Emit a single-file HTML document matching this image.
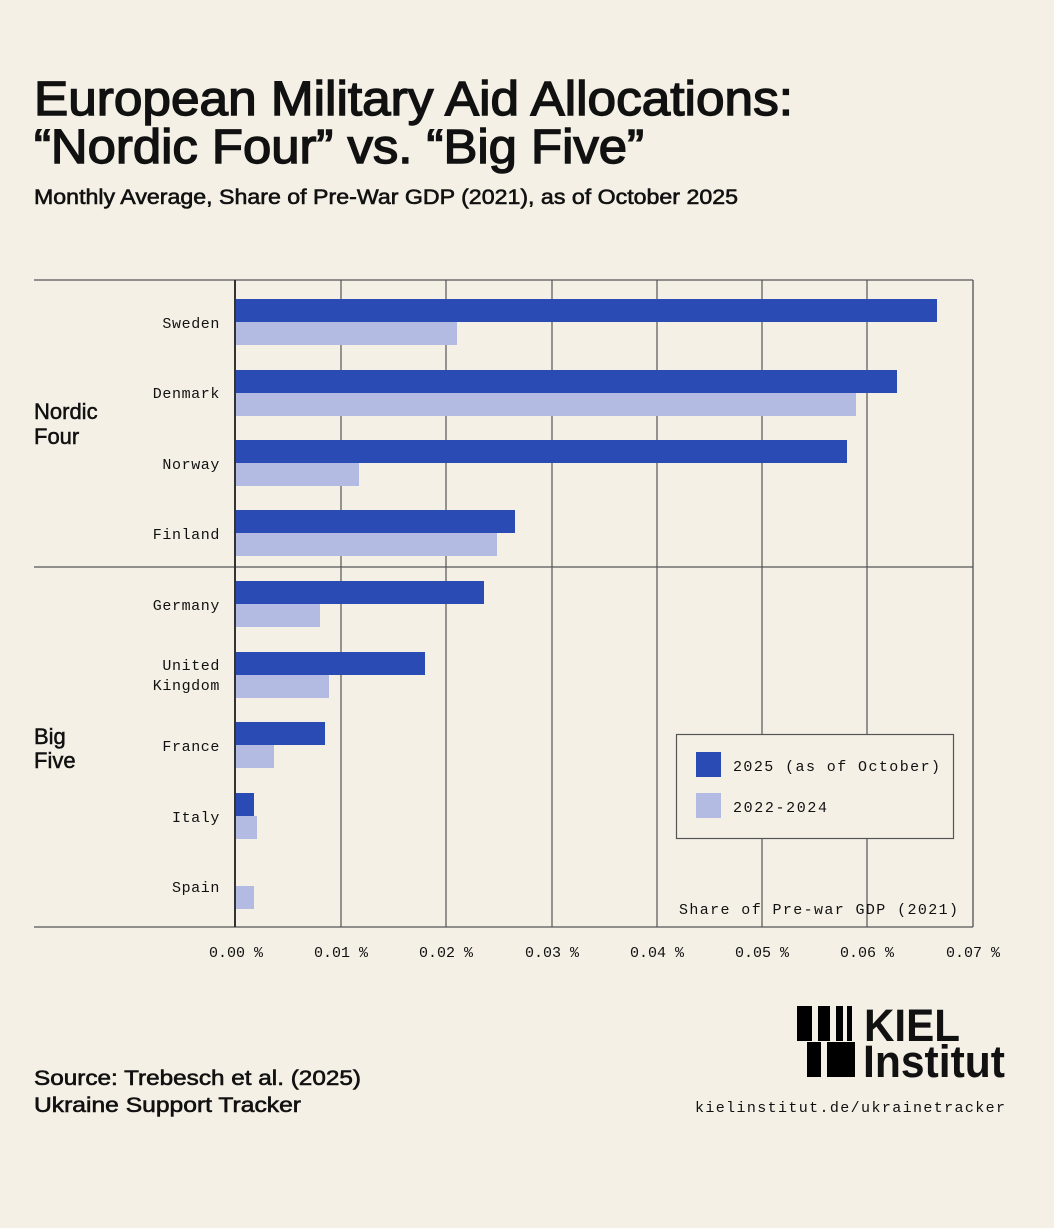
<!DOCTYPE html>
<html><head><meta charset="utf-8"><style>
html,body{margin:0;padding:0;background:#f4f0e6;}
svg{display:block}
.m{font-family:"Liberation Mono",monospace;font-size:15px;fill:#111;}
.s{font-family:"Liberation Sans",sans-serif;fill:#111;}
</style></head><body>
<svg width="1054" height="1228" viewBox="0 0 1054 1228">
<rect width="1054" height="1228" fill="#f4f0e6"/>
<g stroke="#111">
<text class="s" x="34" y="115" font-size="48" stroke-width="1.4" textLength="759" lengthAdjust="spacingAndGlyphs">European Military Aid Allocations:</text>
<text class="s" x="34" y="163" font-size="48" stroke-width="1.4" textLength="610" lengthAdjust="spacingAndGlyphs">“Nordic Four” vs. “Big Five”</text>
<text class="s" x="34" y="204" font-size="21" stroke-width="0.6" textLength="704" lengthAdjust="spacingAndGlyphs">Monthly Average, Share of Pre-War GDP (2021), as of October 2025</text>
</g>
<g stroke="#555" stroke-width="1.2">
<line x1="341" y1="280" x2="341" y2="927"/><line x1="446" y1="280" x2="446" y2="927"/>
<line x1="552" y1="280" x2="552" y2="927"/><line x1="657" y1="280" x2="657" y2="927"/>
<line x1="762" y1="280" x2="762" y2="927"/><line x1="867" y1="280" x2="867" y2="927"/>
<line x1="973" y1="280" x2="973" y2="927" stroke="#888" stroke-width="2"/>
<line x1="34" y1="280" x2="973" y2="280"/><line x1="34" y1="567" x2="973" y2="567"/>
<line x1="34" y1="927" x2="973" y2="927"/>
</g>
<g fill="#2a4bb4">
<rect x="236" y="299" width="701" height="23"/><rect x="236" y="370" width="661" height="23"/>
<rect x="236" y="440" width="611" height="23"/><rect x="236" y="510" width="279" height="23"/>
<rect x="236" y="581" width="248" height="23"/><rect x="236" y="652" width="189" height="23"/>
<rect x="236" y="722" width="89" height="23"/><rect x="236" y="793" width="18" height="23"/>
</g>
<g fill="#b3bbe3">
<rect x="236" y="322" width="221" height="23"/><rect x="236" y="393" width="620" height="23"/>
<rect x="236" y="463" width="123" height="23"/><rect x="236" y="533" width="261" height="23"/>
<rect x="236" y="604" width="84" height="23"/><rect x="236" y="675" width="93" height="23"/>
<rect x="236" y="745" width="38" height="23"/><rect x="236" y="816" width="21" height="23"/>
<rect x="236" y="886" width="18" height="23"/>
</g>
<line x1="235" y1="280" x2="235" y2="927" stroke="#333" stroke-width="2"/>
<g class="m" text-anchor="end" letter-spacing="0.6">
<text x="220" y="328">Sweden</text><text x="220" y="398">Denmark</text>
<text x="220" y="469">Norway</text><text x="220" y="539">Finland</text>
<text x="220" y="610">Germany</text><text x="220" y="670">United</text><text x="220" y="690">Kingdom</text>
<text x="220" y="751">France</text><text x="220" y="822">Italy</text><text x="220" y="892">Spain</text>
</g>
<g class="s" font-size="22" stroke="#111" stroke-width="0.5">
<text x="34" y="419">Nordic</text><text x="34" y="444">Four</text>
<text x="34" y="744">Big</text><text x="34" y="768">Five</text>
</g>
<rect x="676.5" y="734.5" width="277" height="104" fill="#f4f0e6" stroke="#555" stroke-width="1.2"/>
<rect x="696" y="752" width="25" height="25" fill="#2a4bb4"/>
<rect x="696" y="793" width="25" height="25" fill="#b3bbe3"/>
<text class="m" x="733" y="771" textLength="207">2025 (as of October)</text>
<text class="m" x="733" y="812" textLength="94">2022-2024</text>
<text class="m" x="679" y="914" textLength="279">Share of Pre-war GDP (2021)</text>
<g class="m" text-anchor="middle">
<text x="236" y="957">0.00 %</text><text x="341" y="957">0.01 %</text><text x="446" y="957">0.02 %</text>
<text x="552" y="957">0.03 %</text><text x="657" y="957">0.04 %</text><text x="762" y="957">0.05 %</text>
<text x="867" y="957">0.06 %</text><text x="973" y="957">0.07 %</text>
</g>
<g fill="#000">
<rect x="797" y="1006" width="15" height="35"/><rect x="818" y="1006" width="12" height="35"/>
<rect x="836" y="1006" width="7" height="35"/><rect x="847" y="1006" width="5" height="35"/>
<rect x="807" y="1042" width="14" height="35"/><rect x="827" y="1042" width="28" height="35"/>
</g>
<text class="s" x="864" y="1041" font-size="45" font-weight="bold" textLength="96" lengthAdjust="spacingAndGlyphs">KIEL</text>
<text class="s" x="863" y="1077" font-size="45" font-weight="bold" textLength="142" lengthAdjust="spacingAndGlyphs">Institut</text>
<text class="m" x="1005" y="1112" text-anchor="end" textLength="310">kielinstitut.de/ukrainetracker</text>
<g stroke="#111" stroke-width="0.6">
<text class="s" x="34" y="1085" font-size="21" textLength="327" lengthAdjust="spacingAndGlyphs">Source: Trebesch et al. (2025)</text>
<text class="s" x="34" y="1112" font-size="21" textLength="267" lengthAdjust="spacingAndGlyphs">Ukraine Support Tracker</text>
</g>
</svg>
</body></html>
